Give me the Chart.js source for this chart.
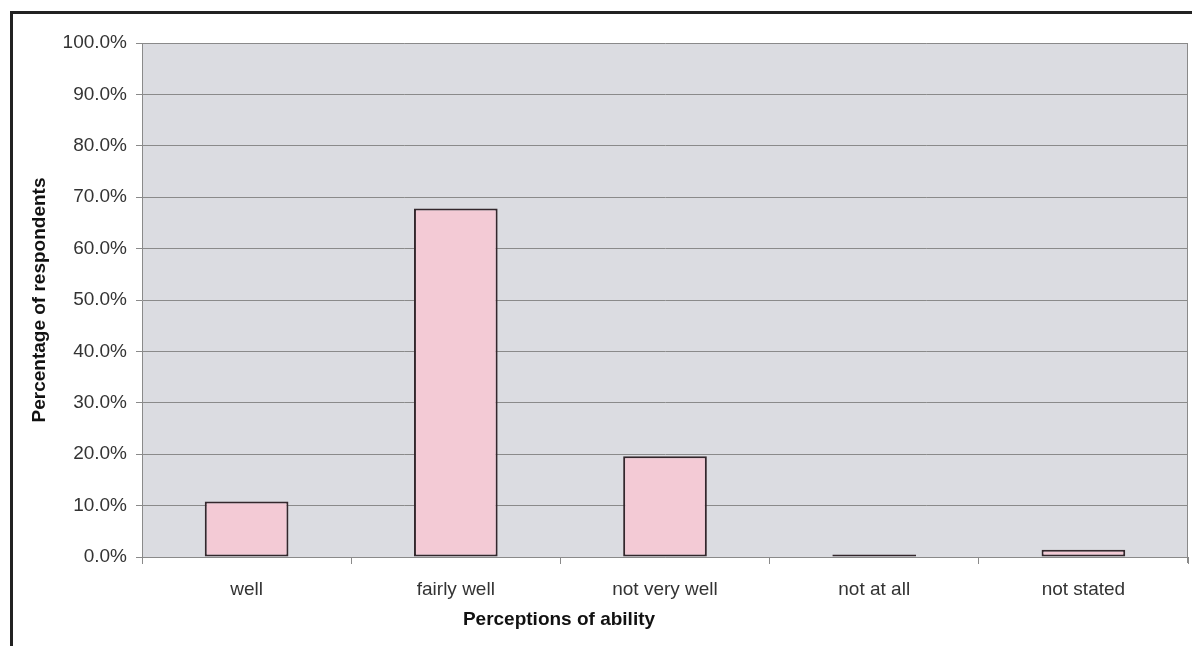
<!DOCTYPE html>
<html>
<head>
<meta charset="utf-8">
<script src="https://cdn.jsdelivr.net/npm/chart.js@4.4.1/dist/chart.umd.min.js"></script>
<style>
  html, body { margin: 0; padding: 0; background: #ffffff; }
  #wrap { position: relative; width: 1192px; height: 646px; }
  canvas { display: block; }
</style>
</head>
<body>
<div id="wrap"><canvas id="c" width="1192" height="646"></canvas></div>
<script>
const categories = ["well", "fairly well", "not very well", "not at all", "not stated"];
const percentages = [10.8, 67.8, 19.6, 0.5, 1.4];
const yTickValues = [0, 10, 20, 30, 40, 50, 60, 70, 80, 90, 100];
const yTitle = "Percentage of respondents";
const xTitle = "Perceptions of ability";

const FONT = "'Liberation Sans', Arial, sans-serif";

const decor = {
  id: 'decor',
  beforeDraw(chart) {
    const { ctx, chartArea: a } = chart;
    ctx.save();
    ctx.fillStyle = '#ffffff';
    ctx.fillRect(0, 0, chart.width, chart.height);
    ctx.fillStyle = '#dbdce1';
    ctx.fillRect(a.left, a.top, a.right - a.left, a.bottom - a.top);
    ctx.restore();
  },
  afterDraw(chart) {
    const { ctx, chartArea: a } = chart;
    ctx.save();
    // right plot edge
    ctx.strokeStyle = '#8a8a8a';
    ctx.lineWidth = 1;
    ctx.beginPath();
    ctx.moveTo(a.right - 0.5, a.top);
    ctx.lineTo(a.right - 0.5, a.bottom + 6);
    ctx.stroke();
    // outer frame (top and left)
    ctx.strokeStyle = '#222222';
    ctx.lineWidth = 3;
    ctx.beginPath();
    ctx.moveTo(11.5, chart.height);
    ctx.lineTo(11.5, 12.5);
    ctx.lineTo(chart.width, 12.5);
    ctx.stroke();
    // x title
    ctx.fillStyle = '#111111';
    ctx.font = "bold 19px " + FONT;
    ctx.textAlign = 'center';
    ctx.textBaseline = 'middle';
    ctx.fillText(xTitle, 559, 620);
    ctx.restore();
  }
};

new Chart(document.getElementById('c'), {
  type: 'bar',
  data: {
    labels: categories,
    datasets: [{
      data: percentages,
      backgroundColor: '#f3cad5',
      borderColor: '#33272c',
      borderWidth: 2,
      borderSkipped: false,
      barPercentage: 0.4,
      categoryPercentage: 1.0
    }]
  },
  options: {
    responsive: false,
    animation: false,
    devicePixelRatio: 1,
    layout: { padding: { left: 0, right: 4, top: 43, bottom: 0 } },
    plugins: { legend: { display: false }, tooltip: { enabled: false } },
    scales: {
      x: {
        offset: true,
        afterFit(scale) { scale.height = 89; },
        grid: {
          offset: true,
          drawOnChartArea: false,
          drawTicks: true,
          tickLength: 7,
          tickColor: '#8a8a8a',
          color: '#8a8a8a'
        },
        border: { display: true, color: '#8a8a8a', width: 1 },
        ticks: {
          padding: 14,
          color: '#333333',
          font: { family: FONT, size: 19 }
        }
      },
      y: {
        min: 0,
        max: 100,
        afterFit(scale) { scale.width = 142; },
        afterBuildTicks(scale) { scale.ticks = yTickValues.map(v => ({ value: v })); },
        grid: {
          color: '#8a8a8a',
          lineWidth: 1,
          drawTicks: true,
          tickLength: 6,
          tickColor: '#8a8a8a'
        },
        border: { display: true, color: '#8a8a8a', width: 1 },
        ticks: {
          padding: 9,
          color: '#333333',
          font: { family: FONT, size: 19 },
          callback: (v) => Number(v).toFixed(1) + '%'
        },
        title: {
          display: true,
          text: yTitle,
          color: '#111111',
          font: { family: FONT, size: 19, weight: 'bold' },
          padding: { top: 28, bottom: 0 }
        }
      }
    }
  },
  plugins: [decor]
});
</script>
</body>
</html>
